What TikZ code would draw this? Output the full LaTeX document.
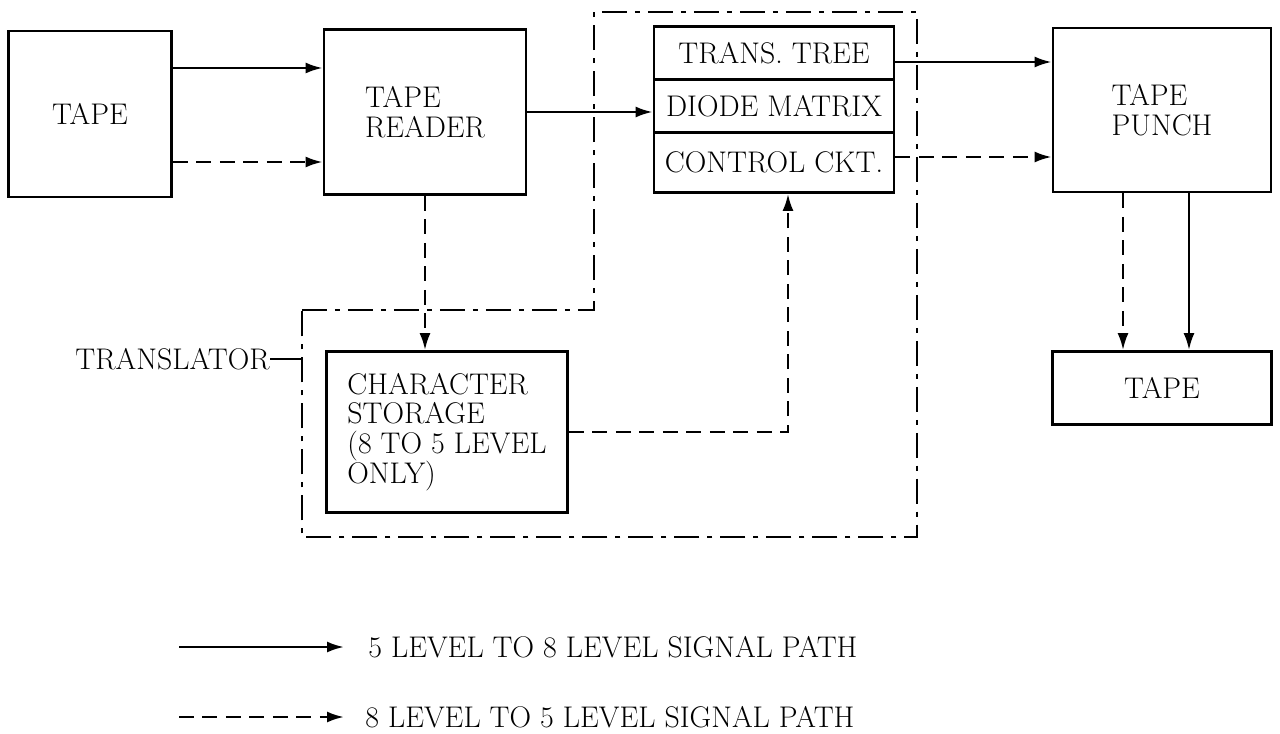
\documentclass[tikz,border=0pt]{standalone}
\usetikzlibrary{arrows.meta,positioning}
\begin{document}
\begin{tikzpicture}[x=0.02cm, y=-0.02cm,
    font=\fontsize{17}{17}\selectfont,
    blk/.style={draw, line width=1.6pt, align=left, inner sep=0pt},
    sig/.style={line width=1.4pt, -{Latex[length=0.34cm,width=0.22cm]}},
    sigdash/.style={sig, dash pattern=on 0.3cm off 0.17cm},
    trbound/.style={line width=1.6pt, dash pattern=on 0.5cm off 0.16cm on 0.1cm off 0.16cm},
    lbl/.style={inner sep=0pt}]
    \path[fill=white] (0,0) rectangle (1280,733);

    % blocks
    \node[blk, minimum width=3.26cm, minimum height=3.32cm] (tapein) at (90,114) {TAPE};
    \node[blk, minimum width=4.04cm, minimum height=3.3cm] (reader) at (425,112) {TAPE\\READER};
    \node[blk, minimum width=4.8cm, minimum height=1.06cm] (trans) at (774,53) {TRANS. TREE};
    \node[blk, minimum width=4.8cm, minimum height=1.06cm, below=-1.6pt of trans] (diode) {DIODE MATRIX};
    \node[blk, minimum width=4.8cm, minimum height=1.2cm, below=-1.6pt of diode] (ctrl) {CONTROL CKT.};
    \node[blk, minimum width=4.36cm, minimum height=3.28cm] (punch) at (1162,110) {TAPE\\PUNCH};
    \node[blk, minimum width=4.38cm, minimum height=1.46cm] (tapeout) at (1162,388) {TAPE};
    \node[blk, minimum width=4.82cm, minimum height=3.22cm] (store) at (447,432) {CHARACTER\\STORAGE\\(8 TO 5 LEVEL\\ONLY)};

    % translator boundary
    \draw[trbound] (302,310) -- (594,310) -- (594,12) -- (917,12) -- (917,537) -- (302,537) -- cycle;
    \node[lbl, anchor=east] (trlabel) at (270,359) {TRANSLATOR};
    \coordinate (trleft) at (302,359);
    \draw[line width=1.6pt] (trlabel.east) -- (trleft);

    % signal paths
    \draw[sig] (tapein.east |- 0,68) -- (reader.west |- 0,68);
    \draw[sigdash] (tapein.east |- 0,162) -- (reader.west |- 0,162);
    \draw[sig] (reader.east) -- (reader.east -| diode.west);
    \draw[sigdash] (reader.south) -- (reader.south |- store.north);
    \draw[sigdash] (store.east) -| ([xshift=0.28cm]ctrl.south);
    \draw[sig] (trans.east |- 0,62) -- (punch.west |- 0,62);
    \draw[sigdash] (ctrl.east |- 0,157) -- (punch.west |- 0,157);
    \draw[sigdash] ([xshift=-0.78cm]punch.south) -- ([xshift=-0.78cm]punch.south |- tapeout.north);
    \draw[sig] ([xshift=0.54cm]punch.south) -- ([xshift=0.54cm]punch.south |- tapeout.north);

    % legend
    \coordinate (lgs) at (179,647);
    \node[lbl, anchor=west] (lgsolid) at (368,647) {5 LEVEL TO 8 LEVEL SIGNAL PATH};
    \draw[sig] (lgs) -- ([xshift=-0.48cm]lgsolid.west);
    \coordinate (lgd) at (179,717);
    \node[lbl, anchor=west] (lgdash) at (365,717) {8 LEVEL TO 5 LEVEL SIGNAL PATH};
    \draw[sigdash] (lgd) -- ([xshift=-0.42cm]lgdash.west);
\end{tikzpicture}
\end{document}
